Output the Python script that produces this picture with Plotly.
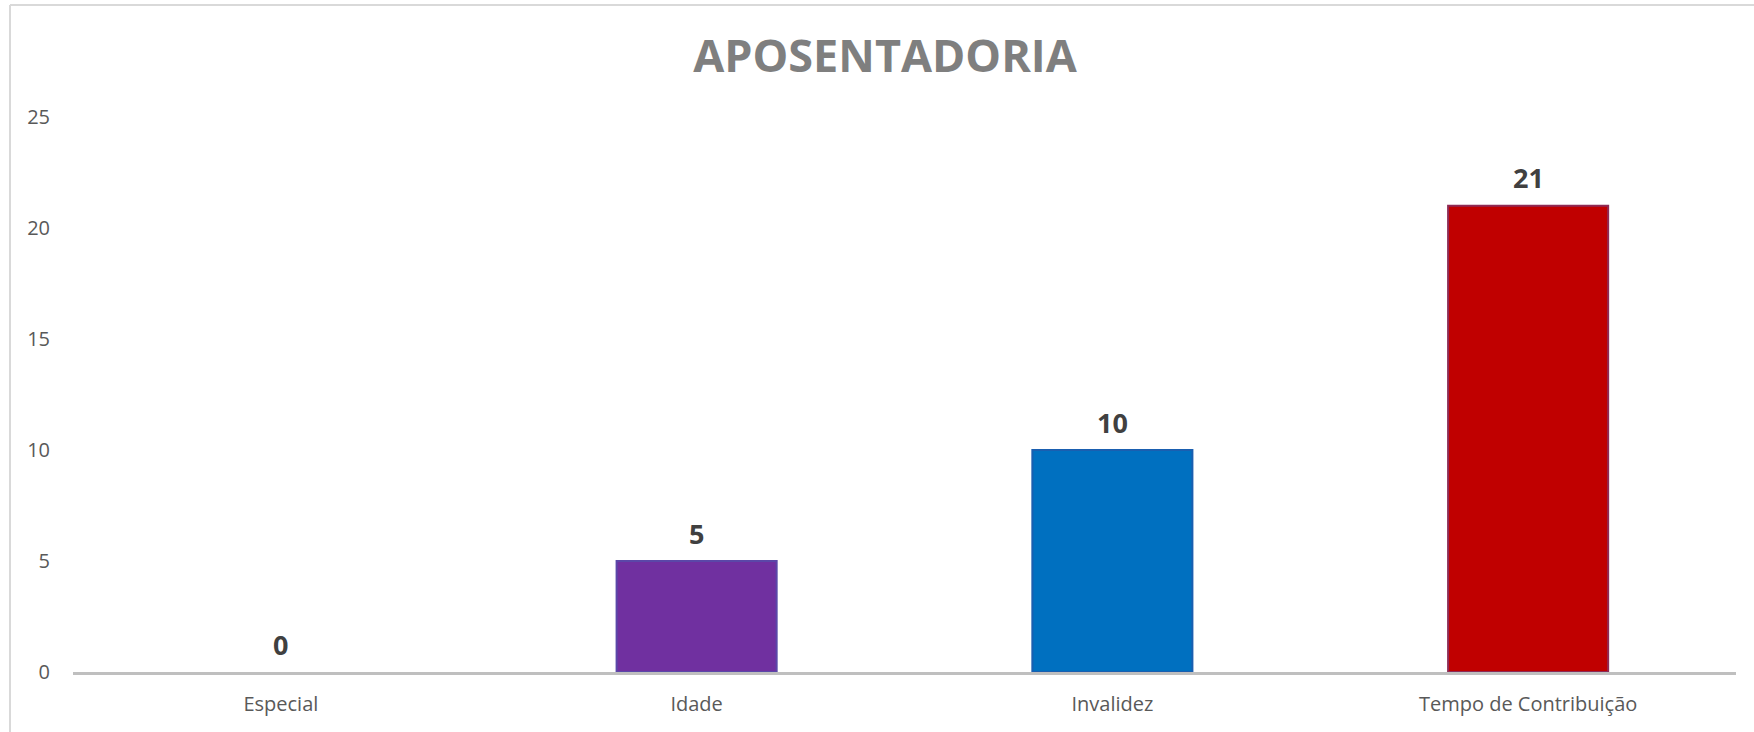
import plotly.graph_objects as go

categories = ["Especial", "Idade", "Invalidez", "Tempo de Contribuição"]
values = [0, 5, 10, 21]
bar_colors = ["#ffc000", "#7030a0", "#0070c0", "#c00000"]
edge_colors = ["#ffc000", "#5b47a8", "#1a5fb0", "#8e2a55"]
edge_widths = [0, 2, 2, 2]
y_ticks = [0, 5, 10, 15, 20, 25]
title_text = "APOSENTADORIA"

W, H = 1754, 732
L, R, T, B = 73, 18, 117, 60
pw, ph = W - L - R, H - T - B

def px_to_paper_x(px):
    return (px - L) / pw

def px_to_paper_y(py):
    return (H - B - py) / ph

fig = go.Figure()
fig.add_trace(go.Bar(
    x=categories, y=values,
    marker=dict(color=bar_colors, line=dict(color=edge_colors, width=edge_widths)),
    hoverinfo="skip",
))

for c, v in zip(categories, values):
    fig.add_annotation(
        x=c, y=v, xref="x", yref="y", text=f"<b>{v}</b>", showarrow=False,
        yanchor="middle", yshift=28,
        font=dict(family="Open Sans", size=27, color="#404040"),
    )

# chart border (left and top visible)
border = "#d9d9d9"
fig.add_shape(type="line", xref="paper", yref="paper",
              x0=px_to_paper_x(10), x1=px_to_paper_x(W + 5),
              y0=px_to_paper_y(5), y1=px_to_paper_y(5),
              line=dict(color=border, width=2))
fig.add_shape(type="line", xref="paper", yref="paper",
              x0=px_to_paper_x(10), x1=px_to_paper_x(10),
              y0=px_to_paper_y(5), y1=px_to_paper_y(H + 5),
              line=dict(color=border, width=2))

fig.update_layout(
    width=W, height=H,
    margin=dict(l=L, r=R, t=T, b=B),
    paper_bgcolor="white", plot_bgcolor="white",
    showlegend=False,
    bargap=0.615,
    title=dict(
        text=f"<b>{title_text}</b>",
        x=885 / W, xanchor="center", xref="container",
        y=1 - 56 / H, yanchor="middle", yref="container",
        font=dict(family="Open Sans", size=45, color="#7f7f7f"),
    ),
    font=dict(family="Open Sans", color="#595959"),
)
fig.update_xaxes(
    showline=True, linecolor="#bfbfbf", linewidth=3,
    showgrid=False, ticks="",
    tickfont=dict(family="Open Sans", size=20, color="#595959"),
    ticklabelstandoff=12,
)
fig.update_yaxes(
    range=[0, 25], tickvals=y_ticks,
    showline=False, showgrid=False, zeroline=False, ticks="",
    tickfont=dict(family="Open Sans", size=20, color="#595959"),
    ticklabelstandoff=22,
)

fig.write_html(
    "out.html",
    config={"displayModeBar": False},
    post_script="document.body.style.margin='0';document.body.style.overflow='hidden';",
)
